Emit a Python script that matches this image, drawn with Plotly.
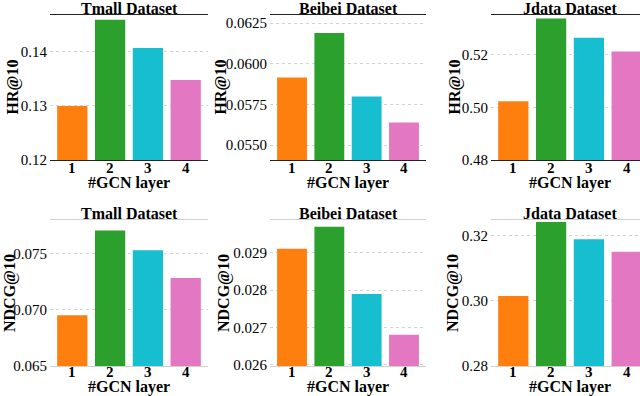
import plotly.graph_objects as go

layers = ['1', '2', '3', '4']
colors = ['#ff7f0e', '#2ca02c', '#17becf', '#e377c2']

datasets = ['Tmall Dataset', 'Beibei Dataset', 'Jdata Dataset']
hr_tmall = [0.1300, 0.1459, 0.1407, 0.1348]
hr_beibei = [0.05916, 0.0619, 0.05799, 0.05639]
hr_jdata = [0.5023, 0.5338, 0.5265, 0.5212]
ndcg_tmall = [0.0695, 0.07702, 0.07528, 0.07282]
ndcg_beibei = [0.02911, 0.02970, 0.0279, 0.02681]
ndcg_jdata = [0.3015, 0.3243, 0.3190, 0.3151]

hr_ticks = [[0.12, 0.13, 0.14], [0.0550, 0.0575, 0.0600, 0.0625], [0.48, 0.50, 0.52]]
ndcg_ticks = [[0.065, 0.070, 0.075], [0.026, 0.027, 0.028, 0.029], [0.28, 0.30, 0.32]]
hr_range = [[0.12, 0.1468], [0.05408, 0.0630], [0.48, 0.5351]]
ndcg_range = [[0.065, 0.07796], [0.02597, 0.02988], [0.2799, 0.3249]]
fmts = [['.2f', '.4f', '.2f'], ['.3f', '.3f', '.2f']]

W, H = 640, 396
col_px = [(50, 208), (270, 426), (491, 649)]
row_px = [(15, 160), (220, 366)]
ytitle_px = [[13, 221, 455], [10, 224, 453]]
xtick_py = [168, 372]
xtitle_py = [183, 387]

def px(v):
    return v / W

def py(v):
    return 1 - v / H

FONT = 'Liberation Serif'
fig = go.Figure()
rows = [[hr_tmall, hr_beibei, hr_jdata], [ndcg_tmall, ndcg_beibei, ndcg_jdata]]
ticks = [hr_ticks, ndcg_ticks]
ranges = [hr_range, ndcg_range]
ylabels = ['HR@10', 'NDCG@10']
annos = []
n = 0
for r in range(2):
    for c in range(3):
        n += 1
        xa = 'x' if n == 1 else 'x%d' % n
        ya = 'y' if n == 1 else 'y%d' % n
        fig.add_trace(go.Bar(x=layers, y=rows[r][c], marker=dict(color=colors, line_width=0),
                             xaxis=xa, yaxis=ya, showlegend=False))
        x0, x1 = px(col_px[c][0]), min(px(col_px[c][1]), 1.0)
        y0, y1 = py(row_px[r][1]), py(row_px[r][0])
        # last column runs past the right edge of the picture
        xr = 3.59 if c < 2 else -0.59 + 4.18 * (x1 - x0) / (px(col_px[c][1]) - x0)
        linec = '#222' if r == 0 else '#d0d0d0'
        fig.layout['xaxis' if n == 1 else 'xaxis%d' % n] = dict(
            domain=[x0, x1], anchor=ya, showline=True, mirror=True, linecolor=linec,
            linewidth=1.2, showgrid=False, ticks='', automargin=False, type='category',
            range=[-0.59, xr], showticklabels=False)
        fig.layout['yaxis' if n == 1 else 'yaxis%d' % n] = dict(
            domain=[y0, y1], anchor=xa, range=ranges[r][c], tickvals=ticks[r][c],
            tickformat=fmts[r][c], showline=False, ticks='', ticklen=0, zeroline=False,
            automargin=False, showgrid=True, gridcolor='#d4d4d4', griddash='dot', gridwidth=1,
            ticklabelstandoff=2, tickprefix='<b>', ticksuffix='</b>',
            tickfont=dict(family=FONT, size=15, color='black'))
        # category tick labels, placed on the category axis by index
        for i, lab in enumerate(layers):
            annos.append(dict(text='<b>%s</b>' % lab, x=i, xref=xa, y=py(xtick_py[r]),
                              yref='paper', xanchor='center', yanchor='middle', showarrow=False,
                              font=dict(family=FONT, size=15, color='black')))
        annos.append(dict(text='<b>%s</b>' % ylabels[r], x=px(ytitle_px[r][c]),
                          y=(y0 + y1) / 2, xref='paper', yref='paper', xanchor='center',
                          yanchor='middle', textangle=-90, showarrow=False,
                          font=dict(family=FONT, size=16, color='black')))
        annos.append(dict(text='<b>%s</b>' % datasets[c], x=(px(col_px[c][0]) + px(col_px[c][1])) / 2,
                          y=y1, yref='paper', xref='paper', xanchor='center', yanchor='bottom',
                          showarrow=False, yshift=-4,
                          font=dict(family=FONT, size=16, color='black')))
        annos.append(dict(text='<b>#GCN layer</b>', x=(px(col_px[c][0]) + px(col_px[c][1])) / 2,
                          y=py(xtitle_py[r]), xref='paper', yref='paper', xanchor='center',
                          yanchor='middle', showarrow=False,
                          font=dict(family=FONT, size=16, color='black')))

fig.update_layout(width=W, height=H, margin=dict(l=0, r=0, t=0, b=0),
                  plot_bgcolor='white', paper_bgcolor='white', bargap=0.2,
                  annotations=annos)
fig.write_html("out.html", config={'displayModeBar': False},
               post_script="document.body.style.margin='0';")
